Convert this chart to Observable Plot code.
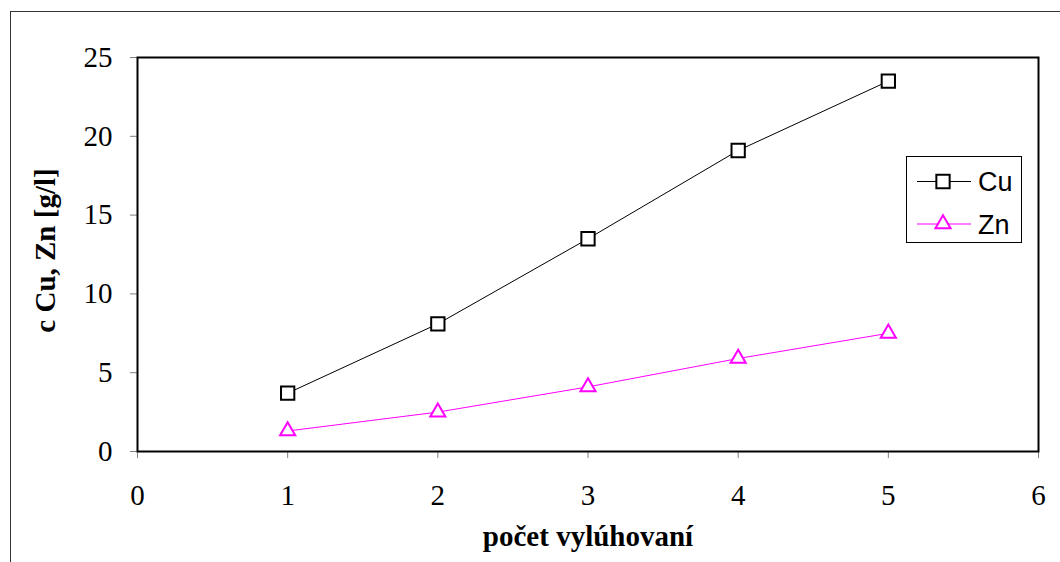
<!DOCTYPE html>
<html><head><meta charset="utf-8">
<script src="https://cdn.jsdelivr.net/npm/d3@7"></script>
<script src="https://cdn.jsdelivr.net/npm/@observablehq/plot@0.6"></script>
<style>
body{margin:0;background:#fff;overflow:hidden}
#wrap{position:relative;width:1060px;height:562px;overflow:hidden;background:#fff}
#border{position:absolute;left:10px;top:11px;width:1100px;height:620px;border:1px solid #333}
#chart{position:absolute;left:0;top:0}
#legend{position:absolute;left:906px;top:156px}
</style></head>
<body><div id="wrap"><div id="border"></div><div id="chart"></div><div id="legend"></div></div>
<script>
const leachings = [1, 2, 3, 4, 5];
const cuValues = [3.7, 8.1, 13.5, 19.1, 23.5];
const znValues = [1.3, 2.5, 4.1, 5.9, 7.5];
const seriesNames = ["Cu", "Zn"];
const seriesColors = ["#000000", "#ff00ff"];
const xTicks = [0, 1, 2, 3, 4, 5, 6];
const yTicks = [0, 5, 10, 15, 20, 25];
const xTitle = "počet vylúhovaní";
const yTitle = "c Cu, Zn [g/l]";

const data = [
  ...leachings.map((x, i) => ({x, v: cuValues[i], s: seriesNames[0]})),
  ...leachings.map((x, i) => ({x, v: znValues[i], s: seriesNames[1]}))
];
const cuData = data.filter(d => d.s === "Cu");
const znData = data.filter(d => d.s === "Zn");

const serif = "'Liberation Serif', 'Times New Roman', serif";
const chart = Plot.plot({
  width: 1060, height: 562,
  marginLeft: 137, marginRight: 22, marginTop: 57, marginBottom: 111,
  style: {fontFamily: serif, fontSize: "29px", background: "transparent", color: "#000", overflow: "visible"},
  x: {domain: [0, 6]},
  y: {domain: [0, 25]},
  marks: [
    Plot.axisX({ticks: xTicks, tickSize: 7, tickPadding: 26, stroke: "#808080", label: null, tickFormat: d => String(d), fontSize: 29}),
    Plot.axisY({ticks: yTicks, tickSize: 7, tickPadding: 18, stroke: "#808080", label: null, tickFormat: d => String(d), fontSize: 29}),
    Plot.frame({stroke: "#000", strokeWidth: 2}),
    Plot.line(cuData, {x: "x", y: "v", stroke: seriesColors[0], strokeWidth: 1}),
    Plot.line(znData, {x: "x", y: "v", stroke: seriesColors[1], strokeWidth: 1}),
    Plot.dot(cuData, {x: "x", y: "v", symbol: "square", r: 7.5, stroke: seriesColors[0], strokeWidth: 2, fill: "#fff"}),
    Plot.dot(znData, {x: "x", y: "v", symbol: "triangle", r: 5.6, stroke: seriesColors[1], strokeWidth: 2, fill: "#fff"}),
    Plot.text([xTitle], {frameAnchor: "bottom", dy: 85, text: d => d, fontWeight: "bold", fontSize: 29, textAnchor: "middle", lineAnchor: "middle", fill: "#000"}),
    Plot.text([yTitle], {frameAnchor: "left", dx: -92, dy: -4, rotate: -90, text: d => d, fontWeight: "bold", fontSize: 29, textAnchor: "middle", lineAnchor: "middle", fill: "#000"})
  ]
});
document.getElementById("chart").appendChild(chart);

// legend
const lw = 116, lh = 87;
const lsvg = d3.select("#legend").append("svg").attr("width", lw).attr("height", lh);
lsvg.append("rect").attr("x", 0.5).attr("y", 0.5).attr("width", lw - 1).attr("height", lh - 1)
  .attr("fill", "#fff").attr("stroke", "#000").attr("stroke-width", 1);
const symSize = [Math.PI * 7.5 * 7.5, Math.PI * 5.6 * 5.6];
const symType = [d3.symbolSquare, d3.symbolTriangle];
seriesNames.forEach((name, i) => {
  const cy = i === 0 ? 25.5 : 68;
  const g = lsvg.append("g");
  g.append("line").attr("x1", 11).attr("x2", 65).attr("y1", cy).attr("y2", cy)
    .attr("stroke", seriesColors[i]).attr("stroke-width", 1);
  g.append("path").attr("d", d3.symbol(symType[i], symSize[i])())
    .attr("transform", `translate(37,${cy})`)
    .attr("fill", "#fff").attr("stroke", seriesColors[i]).attr("stroke-width", 2);
  g.append("text").attr("x", 72).attr("y", cy).attr("dy", "0.36em")
    .attr("font-family", "'Liberation Sans', Arial, sans-serif").attr("font-size", 27)
    .attr("fill", "#000").text(name);
});
</script>
</body></html>
